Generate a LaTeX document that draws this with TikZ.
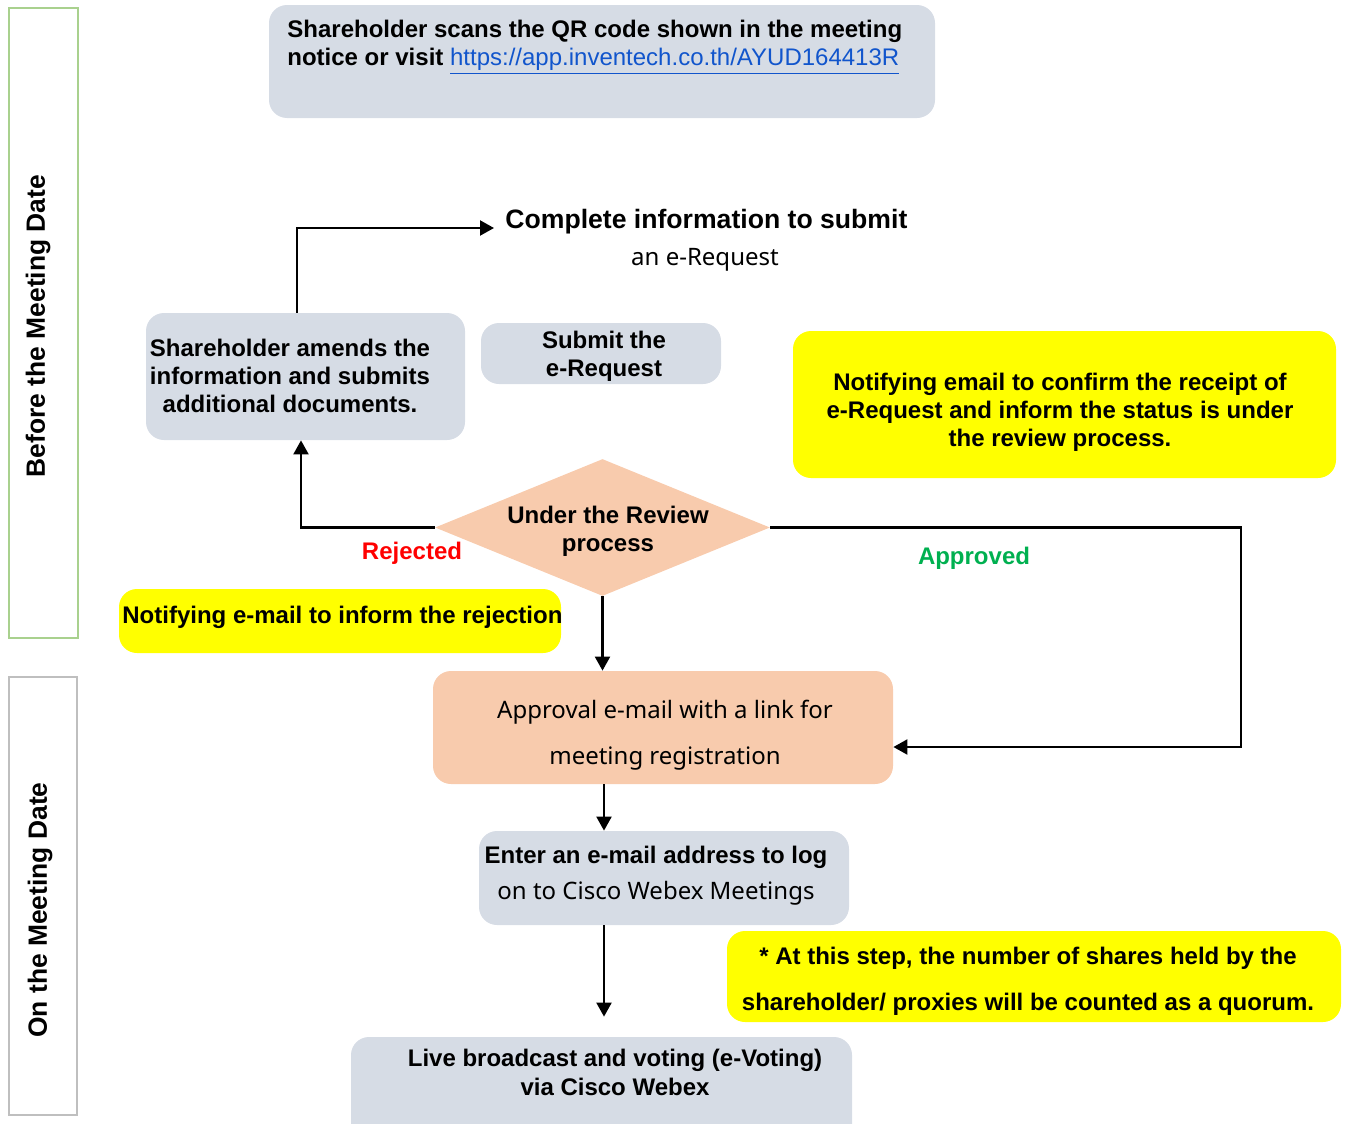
\documentclass[tikz,border=0pt]{standalone}
\usepackage{fontspec}
\setmainfont{Liberation Sans}
\newfontfamily\thfont{Noto Sans}
\usetikzlibrary{fit,shapes.geometric,arrows.meta}
\definecolor{boxgray}{HTML}{D6DCE5}
\definecolor{peach}{HTML}{F8CBAD}
\definecolor{hiyellow}{HTML}{FFFF00}
\definecolor{bandgreen}{HTML}{A9D18E}
\definecolor{bandgray}{HTML}{BFBFBF}
\definecolor{linkblue}{HTML}{1155CC}
\definecolor{okgreen}{HTML}{00B050}
\definecolor{rejred}{HTML}{FF0000}
\begin{document}
\begin{tikzpicture}[x=0.5pt,y=-0.5pt,
  gbox/.style={fill=boxgray, rounded corners=9pt, inner sep=0pt},
  pbox/.style={fill=peach, rounded corners=9pt, inner sep=0pt},
  ybox/.style={fill=hiyellow, rounded corners=9pt, inner sep=0pt},
  band/.style={line width=1.3pt, inner sep=0pt},
  bandtxt/.style={rotate=90, inner sep=0pt, font=\bfseries\fontsize{13.2}{16}\selectfont},
  btxt/.style={inner sep=0pt, align=center, font=\bfseries\fontsize{12}{14}\selectfont},
  rtxt/.style={inner sep=0pt, align=center, font=\thfont\fontsize{12}{14}\selectfont},
  conn/.style={line width=1.1pt, -{Triangle[length=7pt,width=7.5pt]}}
]
\useasboundingbox (0,0) rectangle (1349,1124);

% side bands
\node[band, draw=bandgreen, fit={(9,8) (78,638)}] (bandA) {};
\node[bandtxt] (bandAtxt) at (38,326) {Before the Meeting Date};
\node[band, draw=bandgray, fit={(9,677) (77,1115)}] (bandB) {};
\node[bandtxt] (bandBtxt) at (40,910) {On the Meeting Date};

% top box
\node[gbox, fit={(269,5) (935,118)}] (scan) {};
\node[btxt, align=left, anchor=north west, font=\bfseries\fontsize{12}{14}\selectfont] (scantxt) at (287,20)
  {Shareholder scans the QR code shown in the meeting\\
   notice or visit {\mdseries\color{linkblue}\underline{https://app.inventech.co.th/AYUD164413R}}};

% complete information
\node[inner sep=0pt, anchor=base west, font=\bfseries\fontsize{13.3}{16}\selectfont] (complete) at (505,228) {Complete information to submit};
\node[rtxt] (ereq) at (705,260) {an e-Request};

% amend box
\node[gbox, fit={(146,313) (465,440)}] (amend) {};
\node[btxt] (amendtxt) at (290,376) {Shareholder amends the\\ information and submits\\ additional documents.};

% submit box
\node[gbox, fit={(481,323) (721,384)}] (submit) {};
\node[btxt] (submittxt) at (604,356) {Submit the\\ e-Request};

% notify box
\node[ybox, fit={(793,331) (1336,478)}] (notify) {};
\node[btxt] (notifytxt) at (1060,412) {Notifying email to confirm the receipt of\\ e-Request and inform the status is under\\ the review process.};

% review diamond
\node[diamond, fill=peach, inner sep=0pt, minimum width=167.5pt, minimum height=68.5pt] (review) at (602.5,527.5) {};
\node[btxt] (reviewtxt) at (608,531) {Under the Review\\ process};

% rejection note
\node[ybox, fit={(119,589) (561,653)}] (rejnote) {};
\node[btxt, anchor=west] (rejnotetxt) at (122,617) {Notifying e-mail to inform the rejection};

% approval box
\node[pbox, fit={(433,671) (893,784)}] (approval) {};
\node[rtxt, font=\thfont\fontsize{12}{23}\selectfont] (approvaltxt) at (665,735) {Approval e-mail with a link for\\ meeting registration};

% enter box
\node[gbox, fit={(479,831) (849,925)}] (enter) {};
\node[inner sep=0pt, align=center, font=\fontsize{12}{18}\selectfont] (entertxt) at (656,876)
  {{\bfseries Enter an e-mail address to log}\\
   {\thfont on to Cisco Webex Meetings}};

% quorum note
\node[ybox, fit={(727,931) (1341,1022)}] (quorum) {};
\node[btxt, font=\bfseries\fontsize{12}{23}\selectfont] (quorumtxt) at (1028,981) {* At this step, the number of shares held by the\\ shareholder/ proxies will be counted as a quorum.};

% live box
\node[gbox, fit={(351,1037) (852,1150)}] (live) {};
\node[btxt, font=\bfseries\fontsize{12}{14.5}\selectfont] (livetxt) at (615,1072) {Live broadcast and voting (e-Voting)\\ via Cisco Webex};

% labels
\node[btxt, text=rejred] (rej) at (412,553) {Rejected};
\node[btxt, text=okgreen] (app) at (974,558) {Approved};

% connectors
\coordinate (col) at (604,0);
\coordinate (rt) at (1241,527);
\draw[conn] ([xshift=-4.25pt]amend.north) |- ([xshift=-5.5pt]complete.base west);
\draw[conn] (review.west) -| ([xshift=-2.25pt]amend.south);
\draw[conn] (review.east) -- (review.east -| rt) |- ([yshift=-9.75pt]approval.east);
\draw[conn] (review.south) -- (review.south |- approval.north);
\draw[conn] (approval.south -| col) -- (enter.north -| col);
\path (live.north -| col) ++(0,-20) coordinate (liveend);
\draw[conn] (enter.south -| col) -- (liveend);
\end{tikzpicture}
\end{document}
